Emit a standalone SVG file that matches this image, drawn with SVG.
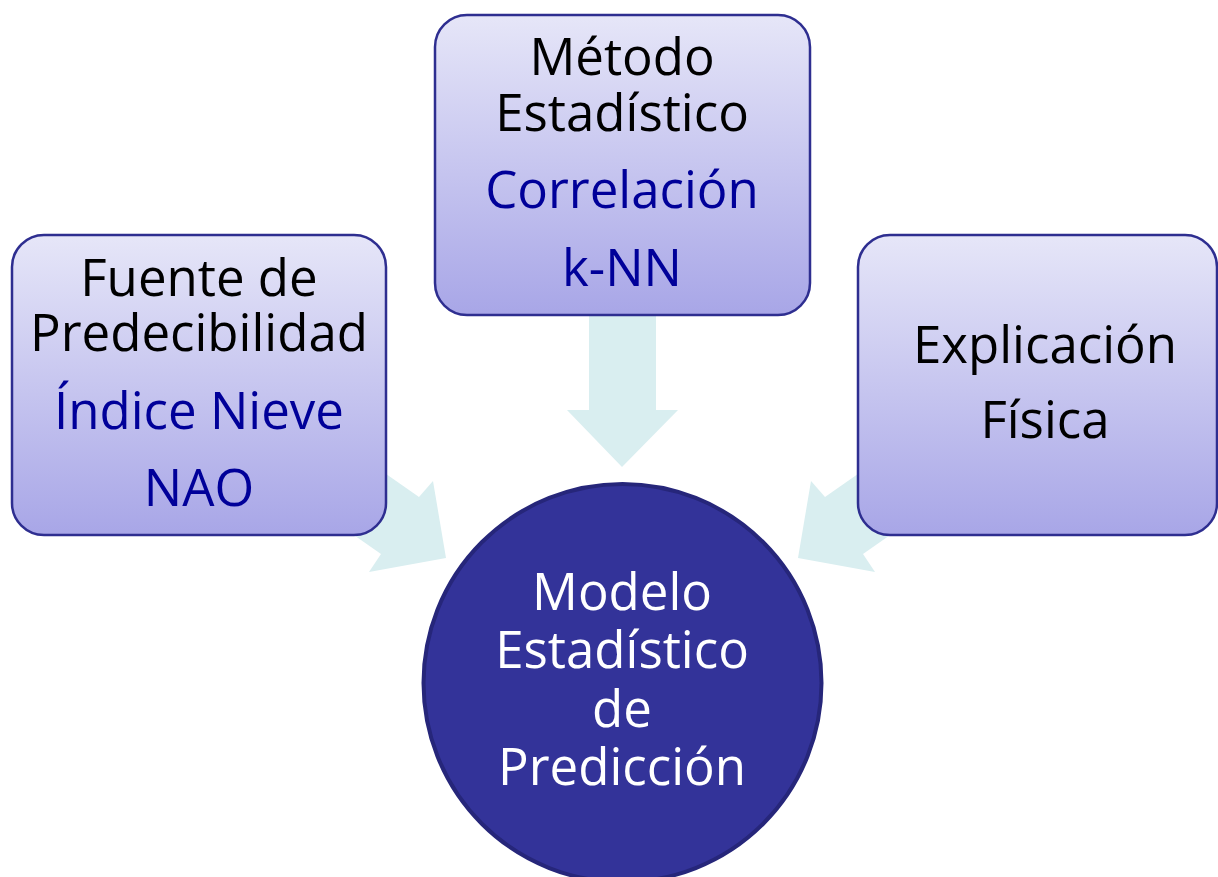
<svg xmlns="http://www.w3.org/2000/svg" width="1218" height="877" viewBox="0 0 1218 877">
<defs>
<linearGradient id="boxGrad" x1="0" y1="0" x2="0" y2="1">
<stop offset="0" stop-color="#e6e6f8"/>
<stop offset="1" stop-color="#a8a6e7"/>
</linearGradient>
<style>
.box{fill:url(#boxGrad);stroke:#2e2e90;stroke-width:2.5}
.arrow{fill:#d9eef0}
text{font-family:"Open Sans","DejaVu Sans",sans-serif;font-size:51px;text-anchor:middle}
.k{fill:#000000}
.b{fill:#000099}
.w{fill:#ffffff}
</style>
</defs>
<rect width="1218" height="877" fill="#ffffff"/>
<g id="connectors">
<polygon class="arrow" points="296,411 419,497 433,481 446,558 369,572 381,554 258,468"/>
<polygon class="arrow" points="948,411 825,497 811,481 798,558 875,572 863,554 986,468"/>
<polygon class="arrow" points="589,250 656,250 656,410 678,410 622,467 567,410 589,410"/>
</g>
<g id="node-fuente">
<rect class="box" x="12" y="235" width="374" height="300" rx="32"/>
<text class="k" x="199" y="296">Fuente de</text>
<text class="k" x="199" y="351">Predecibilidad</text>
<text class="b" x="199" y="429">Índice Nieve</text>
<text class="b" x="199" y="506">NAO</text>
</g>
<g id="node-metodo">
<rect class="box" x="435" y="15" width="375" height="300" rx="32"/>
<text class="k" x="622" y="75">Método</text>
<text class="k" x="622" y="131">Estadístico</text>
<text class="b" x="622" y="208">Correlación</text>
<text class="b" x="622" y="286">k-NN</text>
</g>
<g id="node-explicacion">
<rect class="box" x="858" y="235" width="359" height="300" rx="32"/>
<text class="k" x="1045" y="363">Explicación</text>
<text class="k" x="1045" y="438">Física</text>
</g>
<g id="node-modelo">
<circle cx="622.5" cy="683" r="199" fill="#333399" stroke="#26267a" stroke-width="4"/>
<text class="w" x="622" y="610">Modelo</text>
<text class="w" x="622" y="668">Estadístico</text>
<text class="w" x="622" y="727">de</text>
<text class="w" x="622" y="785">Predicción</text>
</g>
</svg>
